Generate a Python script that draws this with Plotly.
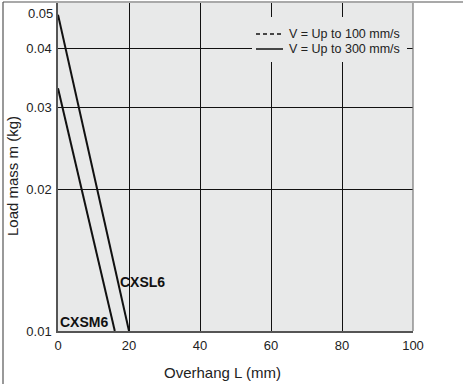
import numpy as np
import plotly.graph_objects as go

# load mass vs overhang
cxsl6_x = [0, 20]
cxsl6_y = [0.0472, 0.01]
cxsm6_x = [0, 16]
cxsm6_y = [0.0329, 0.01]

x_ticks = [0, 20, 40, 60, 80, 100]
y_ticks = [0.01, 0.02, 0.03, 0.04]
legend_labels = ["V = Up to 100 mm/s", "V = Up to 300 mm/s"]

W, H = 463, 384
L, R, T, B = 58, 413, 3, 331  # plot area in pixels


def px(x):
    return (x - L) / (R - L)


def py(y):
    return (B - y) / (B - T)


fam = "Liberation Sans, Arial, sans-serif"
font = dict(family=fam, size=13, color="#222")
bg = "#e8e9e9"

fig = go.Figure()
fig.add_trace(go.Scatter(x=cxsl6_x, y=cxsl6_y, mode="lines",
                         line=dict(color="#111", width=2), showlegend=False))
fig.add_trace(go.Scatter(x=cxsm6_x, y=cxsm6_y, mode="lines",
                         line=dict(color="#111", width=2), showlegend=False))

fig.update_layout(
    width=W, height=H,
    margin=dict(l=L, r=W - R, t=T, b=H - B, autoexpand=False),
    paper_bgcolor="white", plot_bgcolor=bg,
    font=font, showlegend=False,
)
fig.update_xaxes(range=[0, 100], tickvals=x_ticks, showgrid=True,
                 gridcolor="#111", gridwidth=1, zeroline=False,
                 showline=True, linecolor="#555", linewidth=1.5, mirror=False,
                 ticks="", ticklabelstandoff=2)
fig.update_yaxes(type="log", range=[np.log10(0.01), np.log10(0.05)],
                 tickvals=y_ticks, ticktext=["0.01", "0.02", "0.03", "0.04"],
                 showgrid=True, gridcolor="#111", gridwidth=1, zeroline=False,
                 showline=True, linecolor="#555", linewidth=1.5,
                 ticks="", ticklabelstandoff=2)

shapes = [
    # right border of plot
    dict(type="line", xref="paper", yref="paper", x0=1, x1=1, y0=0, y1=1,
         line=dict(color="#777", width=1.2)),
    # outer frame (top and left)
    dict(type="line", xref="paper", yref="paper", x0=px(3), x1=px(W), y0=py(2), y1=py(2),
         line=dict(color="#555", width=1.2)),
    dict(type="line", xref="paper", yref="paper", x0=px(3), x1=px(3), y0=py(2), y1=py(H),
         line=dict(color="#555", width=1.2)),
    # legend box
    dict(type="rect", xref="paper", yref="paper", x0=px(252), x1=px(407), y0=py(62), y1=py(17),
         fillcolor=bg, line=dict(width=0), layer="above"),
    dict(type="line", xref="paper", yref="paper", x0=px(256), x1=px(283), y0=py(34), y1=py(34),
         line=dict(color="#111", width=1.5, dash="4px,3px")),
    dict(type="line", xref="paper", yref="paper", x0=px(256), x1=px(283), y0=py(49), y1=py(49),
         line=dict(color="#111", width=1.5)),
]
fig.update_layout(shapes=shapes)

ann = [
    dict(text=legend_labels[0], x=px(287), y=py(34)),
    dict(text=legend_labels[1], x=px(287), y=py(49)),
]
for a in ann:
    fig.add_annotation(xref="paper", yref="paper", xanchor="left", yanchor="middle",
                       showarrow=False, font=dict(family=fam, size=12.5, color="#222"), **a)

fig.add_annotation(text="0.05", xref="paper", yref="paper", x=px(55), y=py(13),
                   xanchor="right", yanchor="middle", showarrow=False, font=font)
fig.add_annotation(text="Load mass m (kg)", xref="paper", yref="paper",
                   x=px(12), y=py(176), xanchor="center", yanchor="middle",
                   textangle=-90, showarrow=False,
                   font=dict(family=fam, size=15, color="#222"))
fig.add_annotation(text="Overhang L (mm)", xref="paper", yref="paper",
                   x=px(222), y=py(372), xanchor="center", yanchor="middle",
                   showarrow=False, font=dict(family=fam, size=15, color="#222"))
fig.add_annotation(text="<b>CXSM6</b>", x=0, y=np.log10(0.01045), xanchor="left",
                   yanchor="middle", showarrow=False,
                   font=dict(family=fam, size=14, color="#111"))
fig.add_annotation(text="<b>CXSL6</b>", x=17.0, y=np.log10(0.0127), xanchor="left",
                   yanchor="middle", showarrow=False,
                   font=dict(family=fam, size=14, color="#111"))

# drop the browser's default body margin so the figure sits at the page corner
fig.write_html("out.html", config={"displayModeBar": False},
               post_script="document.body.style.margin='0';")
